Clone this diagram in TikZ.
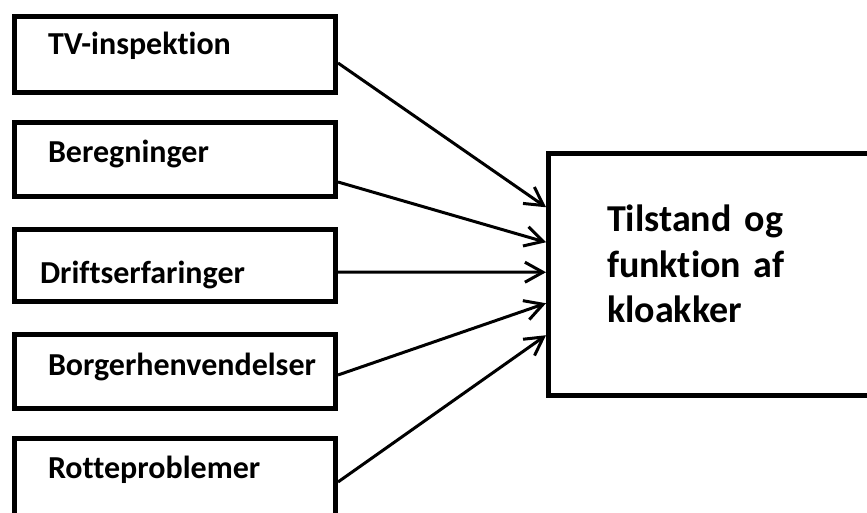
\documentclass[tikz,border=0pt]{standalone}
\usepackage{fontspec}
\setmainfont[Ligatures=NoCommon]{Carlito}
\usetikzlibrary{arrows.meta}
\begin{document}
\begin{tikzpicture}[x=1pt,y=-1pt,>={Straight Barb[length=18pt,width=20pt]},
		kilde/.style={draw, line width=5pt, minimum width=321pt, inner xsep=33.5pt, inner ysep=0pt,
			text width=254pt, align=left, anchor=north west, font=\bfseries\fontsize{32}{38}\selectfont},
		pil/.style={->, line width=3pt}]
		\useasboundingbox (0,0) rectangle (867,513);
		\clip (0,0) rectangle (867,513);
		% Kilder
		\node [kilde, text height=38.5pt, text depth=37.5pt] (tv) at (12,14) {TV-inspektion};
		\node [kilde, text height=40.5pt, text depth=33.5pt] (be) at (12,120) {Beregninger};
		\node [kilde, text height=53.5pt, text depth=18.5pt, inner xsep=25.5pt, text width=270pt] (dr) at (12,227) {Driftserfaringer};
		\node [kilde, text height=40.5pt, text depth=33.5pt] (bo) at (12,332) {Borgerhenvendelser};
		\node [kilde, text height=39.5pt, text depth=40.5pt] (ro) at (12,436) {Rotteproblemer};
		% Tilstand
		\node [draw, line width=5pt, anchor=north west, inner xsep=58.5pt, inner ysep=0pt, text width=280pt,
			align=left, text height=78.5pt, text depth=163pt, font=\bfseries\fontsize{38}{45}\selectfont]
			(kl) at (546,151) {Tilstand\hspace{0.35em}og\\funktion af\\kloakker};
		% Pile
		\draw [pil] ([yshift=-8.5pt]tv.east) -- ([yshift=67pt]kl.west);
		\draw [pil] ([yshift=-22.5pt]be.east) -- ([yshift=32pt]kl.west);
		\draw [pil] ([yshift=-6.5pt]dr.east) -- ([yshift=2pt]kl.west);
		\draw [pil] ([yshift=-3.5pt]bo.east) -- ([yshift=-29pt]kl.west);
		\draw [pil] ([yshift=-3.5pt]ro.east) -- ([yshift=-61pt]kl.west);
	\end{tikzpicture}
\end{document}
